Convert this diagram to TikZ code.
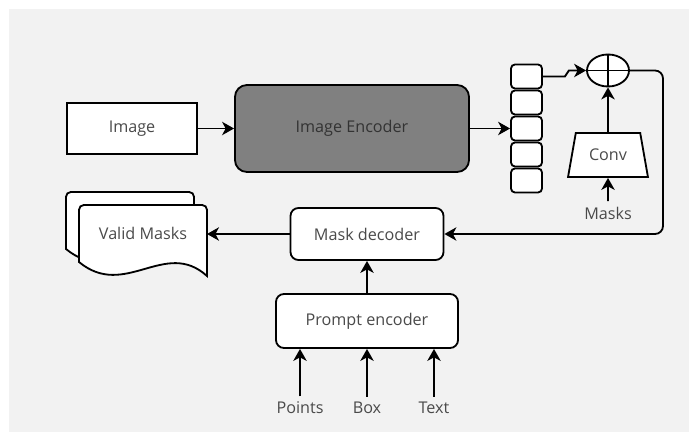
\documentclass[tikz,border=0pt]{standalone}
\usepackage{fontspec}
\setmainfont{Open Sans}
\usetikzlibrary{arrows.meta, shapes.geometric}

\definecolor{bggray}{HTML}{F2F2F2}
\definecolor{encgray}{HTML}{808080}
\definecolor{txtgray}{HTML}{4A4A4A}

\tikzset{
  block/.style={draw, fill=white, text=txtgray, rounded corners=0.2cm},
  token/.style={draw, fill=white, rounded corners=0.1cm, minimum width=0.775cm, minimum height=0.6cm},
  label/.style={text=txtgray},
  sheet/.style={draw, fill=white},
}

\begin{document}
\begin{tikzpicture}[x=0.025cm, y=-0.025cm, line width=1.3pt,
    >={Stealth[length=8.5pt,width=9.5pt,inset=2.5pt]},
    font=\fontsize{11.5}{14}\selectfont]

    % Canvas
    \useasboundingbox (0,0) rectangle (691,432);
    \fill[bggray] (9,9) rectangle (689,432);

    % Input and encoder
    \node[draw, fill=white, text=txtgray, minimum width=3.25cm, minimum height=1.275cm] (img) at (132,128.5) {Image};
    \node[draw, fill=encgray, text=black!80, rounded corners=0.3cm, minimum width=5.85cm, minimum height=2.175cm] (enc) at (352,128.5) {Image Encoder};

    % Embedding tokens
    \foreach \i in {1,...,5}
        \node[token] (t\i) at (526.5,{76.5+26*(\i-1)}) {};

    % Sum and conv branch
    \node[draw, ellipse, fill=white, inner sep=0pt, minimum width=1.05cm, minimum height=0.8cm] (add) at (608,70.5) {};
    \draw (add.north) -- (add.south);
    \draw (add.west) -- (add.east);
    \node[draw, trapezium, trapezium stretches=true, trapezium angle=75, fill=white, text=txtgray,
          minimum width=2cm, minimum height=1.1cm] (conv) at (608,155) {Conv};
    \node[label] (masks) at (608,213) {Masks};

    % Decoder side
    \node[block, minimum width=3.825cm, minimum height=1.3cm] (dec) at (367,234) {Mask decoder};
    \node[block, minimum width=4.55cm, minimum height=1.35cm] (prm) at (367,321) {Prompt encoder};
    \node[label] (pts) at (300,408) {Points};
    \node[label] (box) at (367,408) {Box};
    \node[label] (txt) at (434,408) {Text};

    % Output masks
    \draw[sheet] (66,249) [rounded corners=0.12cm] -- (66,192) -- (194,192) [sharp corners] -- (194,263)
        .. controls (152,225) and (112,287) .. (66,249) -- cycle;
    \draw[sheet] (79,262) [rounded corners=0.12cm] -- (79,205) -- (207,205) [sharp corners] -- (207,276)
        .. controls (165,238) and (125,300) .. (79,262) -- cycle;
    \node[label] (vm) at (143,233) {Valid Masks};
    \coordinate (vmr) at (207,234);

    % Connectors
    \draw[->] (img) -- (enc);
    \draw[->] (enc.east) -- (t3.west);
    \draw[->] (t1.east) -- ++(22,0) -- ++(4,-6) -- (add.west);
    \draw[->] (conv.north) -- (add.south);
    \draw[->] (masks.north) -- (conv.south);
    \coordinate (rt) at (663,0);
    \draw[->, rounded corners=0.2cm] (add.east) -| (rt |- dec.east) -- (dec.east);
    \draw[->] (prm.north) -- (dec.south);
    \draw[->] (dec.west) -- (vmr);
    \foreach \n in {pts, box, txt}
        \draw[->] (\n.north) -- (\n.north |- prm.south);
\end{tikzpicture}
\end{document}
